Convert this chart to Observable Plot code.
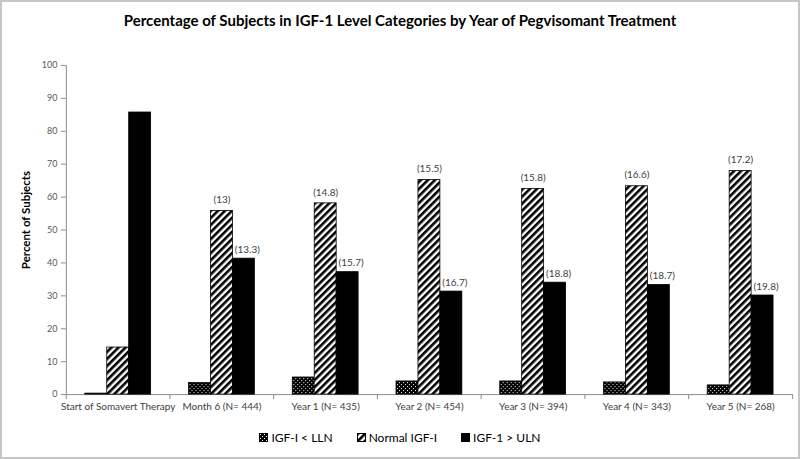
<!DOCTYPE html>
<html>
<head>
<meta charset="utf-8">
<script src="https://cdn.jsdelivr.net/npm/d3@7"></script>
<script src="https://cdn.jsdelivr.net/npm/@observablehq/plot@0.6"></script>
<style>
html, body { margin: 0; padding: 0; background: #fff; }
#wrap { box-sizing: border-box; width: 800px; height: 459px; border: 2px solid #c6c6c6; position: relative; overflow: hidden; font-family: Lato, "Open Sans", sans-serif; background: #fff; }
#title { position: absolute; top: 9px; left: 0; width: 100%; text-align: center; font-weight: bold; font-size: 15px; color: #000; }
#chart { position: absolute; top: 38px; left: -2px; }
#legend { position: absolute; top: 428px; left: 0; width: 100%; text-align: center; font-size: 12px; color: #000; }
.item { display: inline-flex; align-items: center; margin: 0 12px; }
.item svg { margin-right: 3px; }
</style>
</head>
<body>
<svg width="0" height="0" style="position:absolute">
  <defs>
    <pattern id="pLLN" patternUnits="userSpaceOnUse" width="4" height="4">
      <rect width="4" height="4" fill="#000"/>
      <rect x="1" y="1" width="1" height="1" fill="#fff"/>
      <rect x="3" y="3" width="1" height="1" fill="#fff"/>
    </pattern>
    <pattern id="pNorm" patternUnits="userSpaceOnUse" width="5" height="5" patternTransform="rotate(45)">
      <rect width="5" height="5" fill="#fff"/>
      <rect x="0" y="0" width="2.6" height="5" fill="#000"/>
    </pattern>
  </defs>
</svg>
<div id="wrap">
  <div id="title">Percentage of Subjects in IGF-1 Level Categories by Year of Pegvisomant Treatment</div>
  <div id="chart"></div>
  <div id="legend"></div>
</div>
<script>
const categories = ["Start of Somavert Therapy", "Month 6 (N= 444)", "Year 1 (N= 435)", "Year 2 (N= 454)", "Year 3 (N= 394)", "Year 4 (N= 343)", "Year 5 (N= 268)"];
const series = ["IGF-I < LLN", "Normal IGF-I", "IGF-1 > ULN"];
const lln = [0.3, 3.5, 5.2, 4.0, 4.0, 3.7, 2.8];
const normal = [14.3, 55.8, 58.1, 65.2, 62.5, 63.3, 67.9];
const uln = [85.7, 41.3, 37.2, 31.3, 34.0, 33.3, 30.1];
const normalLabels = [null, "(13)", "(14.8)", "(15.5)", "(15.8)", "(16.6)", "(17.2)"];
const ulnLabels = [null, "(13.3)", "(15.7)", "(16.7)", "(18.8)", "(18.7)", "(19.8)"];
const yTicks = [0, 10, 20, 30, 40, 50, 60, 70, 80, 90, 100];
const fills = ["url(#pLLN)", "url(#pNorm)", "#000"];

const data = [];
const normalLabelData = [];
const ulnLabelData = [];
categories.forEach((c, i) => {
  data.push({cat: c, series: series[0], value: lln[i]});
  data.push({cat: c, series: series[1], value: normal[i]});
  data.push({cat: c, series: series[2], value: uln[i]});
  if (normalLabels[i]) normalLabelData.push({cat: c, series: series[1], value: normal[i], label: normalLabels[i]});
  if (ulnLabels[i]) ulnLabelData.push({cat: c, series: series[2], value: uln[i], label: ulnLabels[i]});
});

const W = 800, ML = 65, MR = 5;
const halfStep = (W - ML - MR) / categories.length / 2;

const chart = Plot.plot({
  width: W,
  height: 385,
  marginTop: 25,
  marginBottom: 30,
  marginLeft: ML,
  marginRight: MR,
  style: {fontFamily: "Lato, 'Open Sans', sans-serif", background: "transparent", color: "#595959", overflow: "visible"},
  fx: {domain: categories, padding: 0},
  x: {domain: series, paddingInner: 0, paddingOuter: 0.77, axis: null},
  y: {domain: [0, 100], axis: null},
  color: {domain: series, range: fills},
  marks: [
    Plot.axisY({ticks: yTicks, tickSize: 5, tickPadding: 4, fontSize: 9, label: null, stroke: "#8c8c8c", fill: "#595959"}),
    Plot.frame({anchor: "left", facetAnchor: "left", stroke: "#8c8c8c"}),
    Plot.text(["Percent of Subjects"], {frameAnchor: "left", textAnchor: "middle", rotate: -90, dx: -40, dy: -10, fontWeight: "bold", fontSize: 11.5, fill: "#000", facetAnchor: "left"}),
    Plot.ruleY([0], {stroke: "#8c8c8c"}),
    Plot.barY(data, {fx: "cat", x: "series", y: "value", fill: "series", stroke: "#000", strokeWidth: 0.8}),
    Plot.text(normalLabelData, {fx: "cat", x: "series", y: "value", text: "label", dy: -11, fontSize: 10, fill: "#404040"}),
    Plot.text(ulnLabelData, {fx: "cat", x: "series", y: "value", text: "label", dx: 3.5, dy: -9, fontSize: 10, fill: "#404040"}),
    Plot.axisFx({anchor: "bottom", tickSize: 0, tickPadding: 8, fontSize: 10, label: null, fill: "#404040"}),
    Plot.axisFx({anchor: "bottom", tickSize: 5, tickFormat: () => "", label: null, dx: -halfStep, stroke: "#8c8c8c"}),
    Plot.axisFx({anchor: "bottom", ticks: [categories[categories.length - 1]], tickSize: 5, tickFormat: () => "", label: null, dx: halfStep, stroke: "#8c8c8c"})
  ]
});
document.getElementById("chart").appendChild(chart);

const legend = document.getElementById("legend");
series.forEach((s, i) => {
  const item = document.createElement("span");
  item.className = "item";
  item.innerHTML = `<svg width="9" height="9"><rect x="0.5" y="0.5" width="8" height="8" fill="${fills[i]}" stroke="#000" stroke-width="1"/></svg><span>${s.replace("<", "&lt;").replace(">", "&gt;")}</span>`;
  legend.appendChild(item);
});
</script>
</body>
</html>
